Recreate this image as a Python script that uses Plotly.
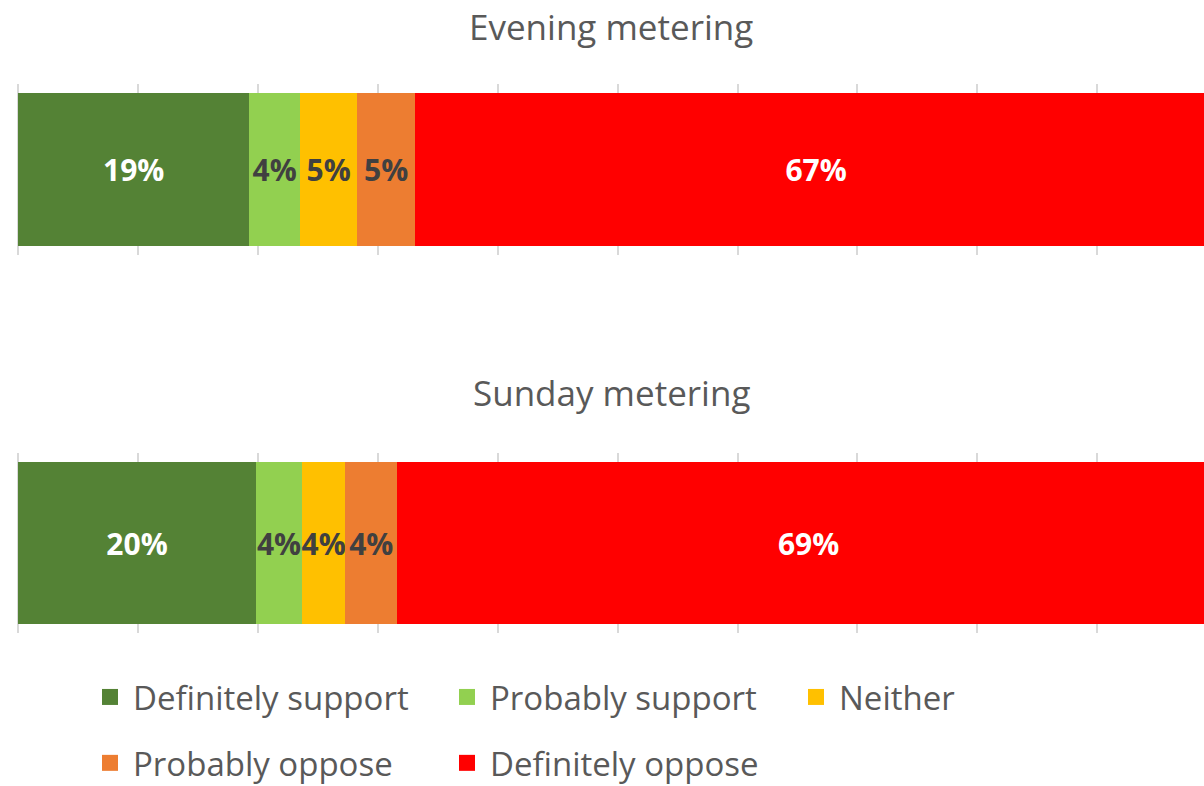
import plotly.graph_objects as go

categories = ["Definitely support", "Probably support", "Neither", "Probably oppose", "Definitely oppose"]
colors = ["#548235", "#92D050", "#FFC000", "#ED7D31", "#FF0000"]
label_colors = ["#FFFFFF", "#404040", "#404040", "#404040", "#FFFFFF"]
panels = ["Evening metering", "Sunday metering"]
evening = [19.3, 4.2, 4.8, 4.8, 66.9]
sunday = [19.85, 3.84, 3.6, 4.34, 68.6]
series = [evening, sunday]

FONT = "Open Sans"
GREY = "#595959"
W, H = 1204, 786
L = 18

fig = go.Figure()
for p, vals in enumerate(series):
    xa = "x" if p == 0 else "x2"
    ya = "y" if p == 0 else "y2"
    for c, cat in enumerate(categories):
        fig.add_trace(go.Bar(
            x=[vals[c]], y=[panels[p]], orientation="h",
            marker=dict(color=colors[c], line=dict(width=0)),
            name=cat, showlegend=False,
            texttemplate="%{x:.0f}%", textangle=0,
            textposition="inside", insidetextanchor="middle",
            textfont=dict(family=FONT, size=30, color=label_colors[c], weight="bold"),
            xaxis=xa, yaxis=ya, hoverinfo="skip",
        ))

# legend entries arranged in columns (col 0: items 0,3; col 1: items 1,4; col 2: item 2)
legend_of = ["legend", "legend2", "legend3", "legend", "legend2"]
for c, cat in enumerate(categories):
    fig.add_trace(go.Scatter(
        x=[None], y=[None], mode="markers", name=cat,
        marker=dict(symbol="square", size=18, color=colors[c]),
        legend=legend_of[c], legendgroup=cat,
        xaxis="x", yaxis="y",
    ))

axis_x = dict(range=[0, 98.9], dtick=10, tick0=0, showgrid=True, gridcolor="#D9D9D9",
              gridwidth=1.5, showticklabels=False, showline=False, zeroline=True,
              zerolinecolor="#D9D9D9", zerolinewidth=1.5, fixedrange=True)
axis_y = dict(showticklabels=False, showgrid=False, zeroline=False, showline=False)

def leg(px):
    return dict(orientation="v", x=(px - L) / (W - L), xanchor="left",
                y=1 - 669 / H, yanchor="top", traceorder="grouped", itemwidth=36,
                tracegroupgap=20, font=dict(family=FONT, size=33, color=GREY),
                bgcolor="rgba(0,0,0,0)")

fig.update_layout(
    width=W, height=H,
    margin=dict(l=L, r=0, t=0, b=0, autoexpand=False),
    paper_bgcolor="white", plot_bgcolor="white",
    barmode="stack", bargap=0.1,
    uniformtext=dict(minsize=30, mode="show"),
    xaxis=dict(axis_x, anchor="y"),
    xaxis2=dict(axis_x, anchor="y2"),
    yaxis=dict(axis_y, domain=[1 - 255 / H, 1 - 84 / H], anchor="x"),
    yaxis2=dict(axis_y, domain=[1 - 633 / H, 1 - 453 / H], anchor="x2"),
    legend=leg(87),
    legend2=leg(444),
    legend3=leg(793),
    annotations=[
        dict(text=panels[0], x=0.5, xref="paper", y=1 - 26 / H, yref="paper", showarrow=False,
             xanchor="center", yanchor="middle", font=dict(family=FONT, size=35, color=GREY)),
        dict(text=panels[1], x=0.5, xref="paper", y=1 - 392 / H, yref="paper", showarrow=False,
             xanchor="center", yanchor="middle", font=dict(family=FONT, size=35, color=GREY)),
    ],
)

fig.write_html("out.html", config={"displayModeBar": False},
               post_script="document.body.style.margin='0';document.body.style.overflow='hidden';")
